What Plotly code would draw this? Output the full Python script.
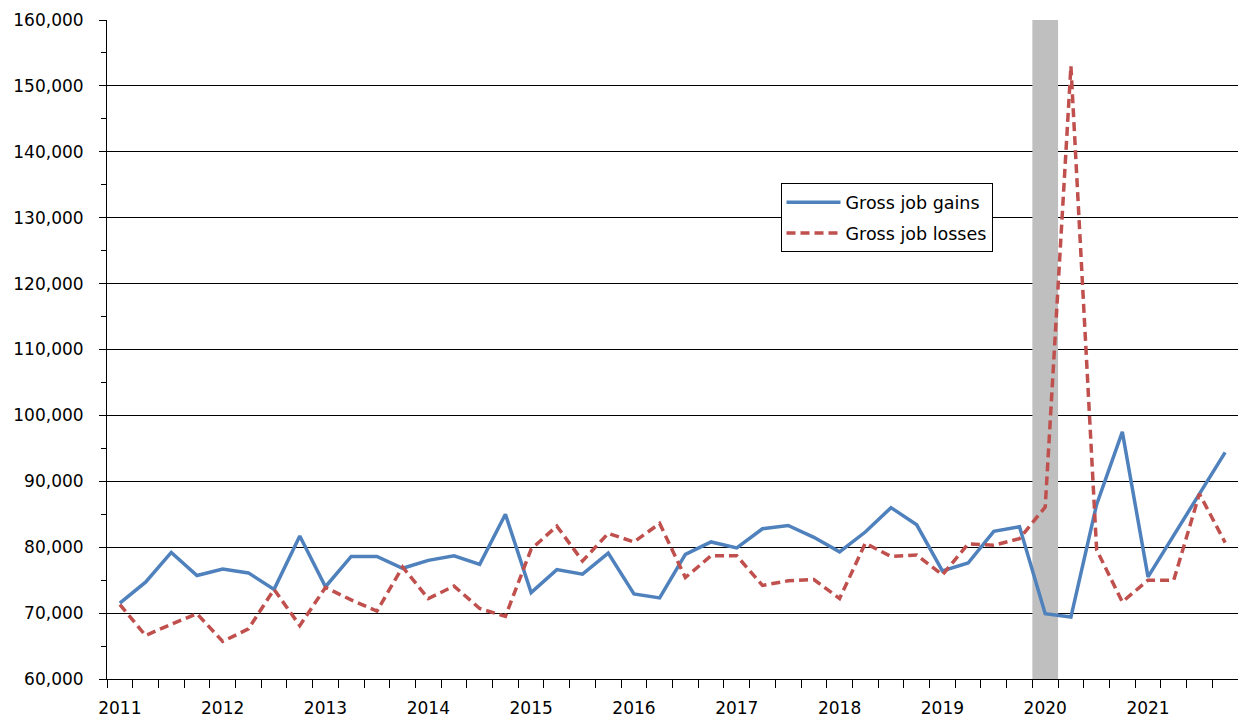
import plotly.graph_objects as go

years = ["2011", "2012", "2013", "2014", "2015", "2016", "2017", "2018", "2019", "2020", "2021"]

gains = [
    71500, 74700, 79200, 75700,
    76700, 76100, 73600, 81700,
    74000, 78600, 78600, 76800,
    78000, 78700, 77400, 85000,
    73100, 76600, 75900, 79100,
    72900, 72300, 78900, 80800,
    79900, 82800, 83300, 81500,
    79300, 82300, 86000, 83400,
    76400, 77600, 82400, 83100,
    69900, 69400, 86500, 97500,
    75500, 81700, 88100, 94400,
]

losses = [
    71300, 66600, 68300, 69900,
    65700, 67600, 73600, 68100,
    73900, 72000, 70300, 77000,
    72200, 74100, 70700, 69500,
    79700, 83200, 77900, 82100,
    80800, 83600, 75400, 78700,
    78700, 74200, 74900, 75100,
    72200, 80600, 78600, 78800,
    75800, 80500, 80300, 81300,
    86100, 153000, 79600, 71700,
    75000, 75000, 88100, 80700,
]

recession_quarter = 36  # 2020 Q1

x = list(range(len(gains)))
FONT = "DejaVu Sans"

fig = go.Figure()
fig.add_trace(go.Scatter(
    x=x, y=gains, mode="lines", name="Gross job gains",
    line=dict(color="#4F81BD", width=3.5), legendgroup="a",
))
fig.add_trace(go.Scatter(
    x=x, y=losses, mode="lines", name="Gross job losses",
    line=dict(color="#C0504D", width=3.5, dash="9px,5px"), legendgroup="b",
))

fig.add_shape(
    type="rect", xref="x", yref="y",
    x0=recession_quarter - 0.5, x1=recession_quarter + 0.5,
    y0=60000, y1=160000,
    fillcolor="#BFBFBF", line=dict(width=0), layer="between",
)

fig.update_layout(
    width=1238, height=717,
    margin=dict(l=107, r=0, t=20, b=38),
    paper_bgcolor="white", plot_bgcolor="white",
    font=dict(family=FONT, size=17, color="black"),
    showlegend=True,
    legend=dict(
        x=0.5955, y=0.752, xanchor="left", yanchor="top",
        bgcolor="white", bordercolor="black", borderwidth=1,
        font=dict(family=FONT, size=17.5, color="black"),
        itemwidth=54, tracegroupgap=5, traceorder="grouped",
    ),
)

fig.update_xaxes(
    automargin=False,
    range=[-0.5, len(gains) - 0.5],
    tickmode="array",
    tickvals=[i * 4 for i in range(len(years))],
    ticktext=years,
    ticks="outside", ticklen=8, tickcolor="rgba(0,0,0,0)",
    ticklabelstandoff=6,
    showgrid=False, zeroline=False,
    showline=True, linecolor="black", linewidth=1,
    minor=dict(
        tickmode="array",
        tickvals=[i - 0.5 for i in range(len(gains) + 1)],
        ticks="outside", ticklen=8, tickcolor="black", tickwidth=1,
        showgrid=False,
    ),
    tickfont=dict(family=FONT, size=17, color="black"),
)

fig.update_yaxes(
    automargin=False,
    range=[60000, 160000],
    tickmode="linear", tick0=60000, dtick=10000,
    tickformat=",",
    ticks="outside", ticklen=7, tickcolor="black", tickwidth=1,
    ticklabelstandoff=12,
    showgrid=True, gridcolor="black", gridwidth=1,
    zeroline=False,
    showline=True, linecolor="black", linewidth=1,
    minor=dict(dtick=5000, tick0=60000, ticks="outside", ticklen=5,
               tickcolor="black", tickwidth=1, showgrid=False),
    tickfont=dict(family=FONT, size=17, color="black"),
)

fig.write_html(
    "out.html",
    config={"displayModeBar": False},
    post_script="document.body.style.margin='0';document.body.style.overflow='hidden';",
)
